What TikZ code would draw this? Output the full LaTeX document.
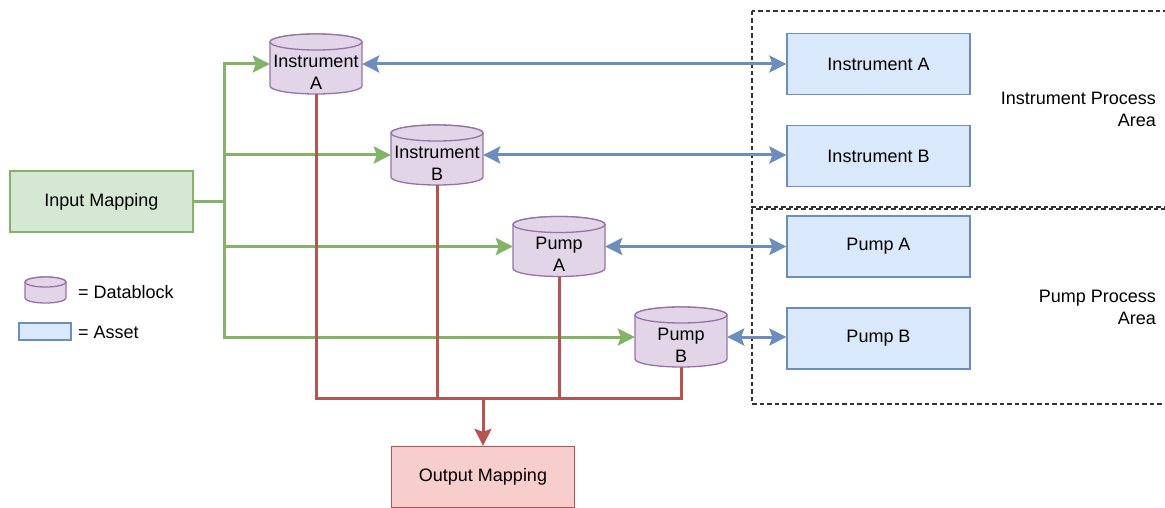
\documentclass[tikz,border=0pt]{standalone}
\usepackage{fontspec}
\setmainfont{Liberation Sans}
\usetikzlibrary{arrows.meta}

\definecolor{gline}{HTML}{82B366}
\definecolor{gfill}{HTML}{D5E8D4}
\definecolor{bline}{HTML}{6C8EBF}
\definecolor{bfill}{HTML}{DAE8FC}
\definecolor{rline}{HTML}{B85450}
\definecolor{rfill}{HTML}{F8CECC}
\definecolor{pline}{HTML}{9673A6}
\definecolor{pfill}{HTML}{E1D5E7}

\tikzset{
  x=1pt, y=1pt,
  >={Stealth[length=17pt,width=17pt,inset=3pt]},
  lbl/.style={font=\fontsize{18}{22}\selectfont, text=black, inner sep=0pt},
  box/.style={lbl, line width=1.3pt, minimum width=183pt, minimum height=61pt, align=center},
  assetbox/.style={box, draw=bline, fill=bfill},
  inbox/.style={box, draw=gline, fill=gfill},
  outbox/.style={box, draw=rline, fill=rfill},
  cylbody/.style={draw=pline, fill=pfill, line width=1.3pt},
  cylnode/.style={minimum width=92pt, minimum height=60pt, inner sep=0pt},
  cyltext/.style={lbl, align=center},
  feed/.style={draw=gline, line width=3pt},
  link/.style={draw=bline, line width=3pt},
  collect/.style={draw=rline, line width=3pt},
  area/.style={draw=black!80, line width=1.2pt, dash pattern=on 4.5pt off 3pt},
}

% vertical cylinder: centre x, centre y (downwards), x radius, half body, y radius
\newcommand\cylshape[5]{%
  \filldraw[cylbody] ({#1-#3},{-(#2)+#4}) -- ({#1-#3},{-(#2)-#4})
    arc[start angle=180,end angle=360,x radius=#3,y radius=#5]
    -- ({#1+#3},{-(#2)+#4})
    arc[start angle=0,end angle=180,x radius=#3,y radius=#5] -- cycle;
  \draw[cylbody] (#1,{-(#2)+#4}) ellipse[x radius=#3,y radius=#5];}

\begin{document}
\begin{tikzpicture}
\useasboundingbox (0,0) rectangle (1165,-508);
\clip (0,0) rectangle (1165,-508);

% process areas
\draw[area] (752,-11) rectangle (1180,-207);
\draw[area] (752,-209) rectangle (1180,-404);
\node[lbl, align=right, anchor=east] (iarea) at (1156,-109.5) {Instrument Process\\Area};
\node[lbl, align=right, anchor=east] (parea) at (1156,-307.5) {Pump Process\\Area};

% mappings
\node[inbox] (in) at (101.5,-201.5) {Input Mapping};
\node[outbox] (out) at (483,-477) {Output Mapping};

% assets
\node[assetbox] (aia) at (878.5,-64) {Instrument A};
\node[assetbox] (aib) at (878.5,-156) {Instrument B};
\node[assetbox] (apa) at (878.5,-246.5) {Pump A};
\node[assetbox] (apb) at (878.5,-338.5) {Pump B};

% datablocks
\cylshape{316}{64}{46}{22}{8}
\cylshape{437}{155}{46}{22}{8}
\cylshape{559}{246.5}{46}{22}{8}
\cylshape{681}{337}{46}{22}{8}
\node[cylnode] (dia) at (316,-64) {};
\node[cylnode] (dib) at (437,-155) {};
\node[cylnode] (dpa) at (559,-246.5) {};
\node[cylnode] (dpb) at (681,-337) {};
\node[cyltext] (tia) at (316,-72) {Instrument\\A};
\node[cyltext] (tib) at (437,-163) {Instrument\\B};
\node[cyltext] (tpa) at (559,-254.5) {Pump\\A};
\node[cyltext] (tpb) at (681,-345) {Pump\\B};

% input feeds
\coordinate (gbus) at (224,-201.5);
\draw[feed] (in.east) -- (gbus);
\draw[feed,->] (gbus) |- (dia.west);
\draw[feed,->] (gbus) |- (dib.west);
\draw[feed,->] (gbus) |- (dpa.west);
\draw[feed,->] (gbus) |- (dpb.west);

% datablock <-> asset links
\draw[link,<->] (dia.east) -- (dia.east -| aia.west);
\draw[link,<->] (dib.east) -- (dib.east -| aib.west);
\draw[link,<->] (dpa.east) -- (dpa.east -| apa.west);
\draw[link,<->] (dpb.east) -- (dpb.east -| apb.west);

% output collection
\coordinate (rbus) at (483,-398);
\draw[collect] (dia.south) |- (rbus);
\draw[collect] (dpb.south) |- (rbus);
\draw[collect] (dib.south) -- (dib.south |- rbus);
\draw[collect] (dpa.south) -- (dpa.south |- rbus);
\draw[collect,->] (rbus) -- (out.north);

% legend
\cylshape{45.5}{290}{20.5}{8}{5}
\node[lbl, anchor=west] (ldb) at (78,-292) {= Datablock};
\node[draw=bline, fill=bfill, line width=1.3pt, minimum width=52pt, minimum height=17pt, inner sep=0pt] (las) at (45,-331.5) {};
\node[lbl, anchor=west] (lat) at (78,-332) {= Asset};
\end{tikzpicture}
\end{document}
